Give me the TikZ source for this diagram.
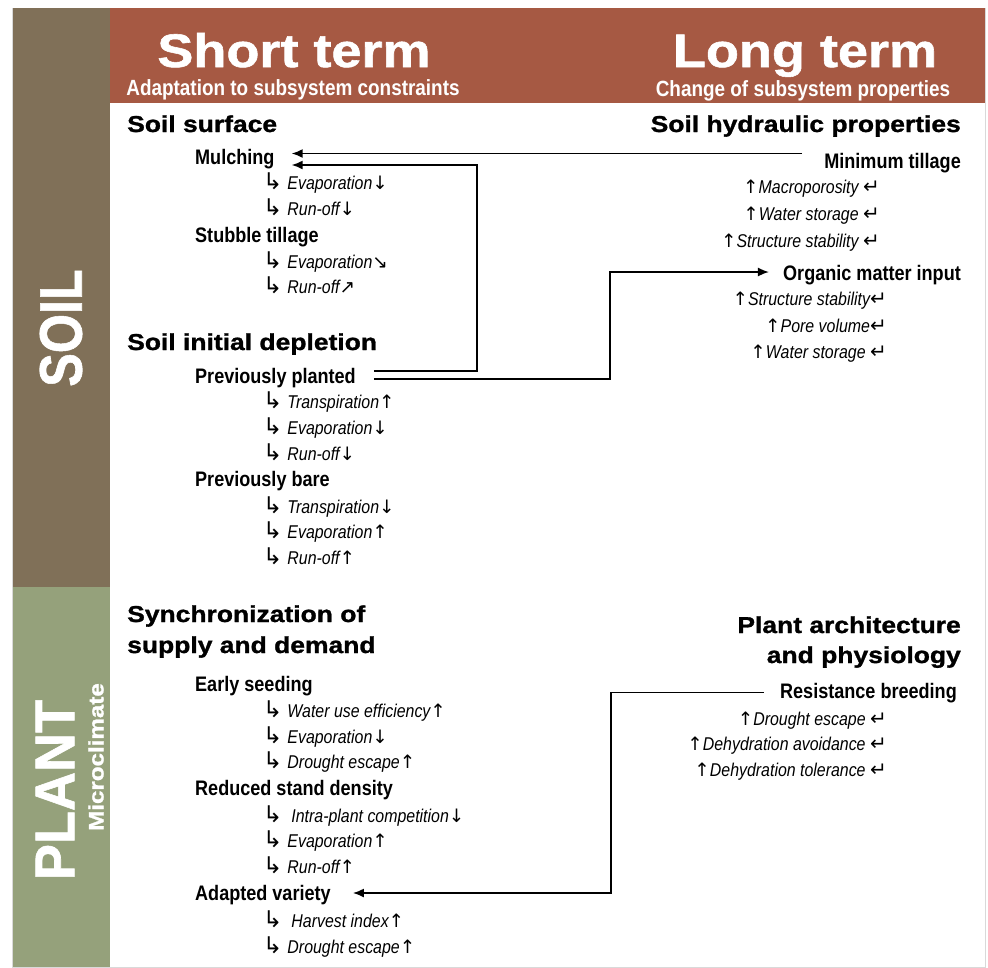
\documentclass[tikz,border=0pt]{standalone}
\usepackage{fontspec}
\setmainfont{Liberation Sans}
\newfontfamily\heavyfont{Liberation Sans}[FakeStretch=1.15,BoldFeatures={FakeBold=1.2}]
\newfontfamily\narrowfont{Liberation Sans}[FakeStretch=0.86]
\newfontfamily\symfont{DejaVu Sans}
\usetikzlibrary{arrows.meta}
\definecolor{soilbrown}{HTML}{807058}
\definecolor{plantgreen}{HTML}{95A17B}
\definecolor{headred}{HTML}{A65943}
\newcommand{\hookarr}{{\symfont\upshape\fontsize{23}{23}\selectfont ↳}}
\newcommand{\retarr}{{\symfont\upshape\fontsize{20}{20}\selectfont ↵}}
\newcommand{\arrup}{{\symfont\upshape ↑}}
\newcommand{\arrdown}{{\symfont\upshape ↓}}
\newcommand{\arrse}{{\symfont\upshape ↘}}
\newcommand{\arrne}{{\symfont\upshape ↗}}
\begin{document}
\begin{tikzpicture}[x=1pt,y=-1pt,
  hdr/.style={font=\heavyfont\bfseries\fontsize{47}{47}\selectfont, text=white, inner sep=0pt, anchor=base},
  sub/.style={font=\narrowfont\bfseries\fontsize{22}{22}\selectfont, text=white, inner sep=0pt, anchor=base},
  side/.style={font=\heavyfont\bfseries, text=white, inner sep=0pt, rotate=90},
  sect/.style={font=\heavyfont\bfseries\fontsize{23}{23}\selectfont, inner sep=0pt},
  item/.style={font=\narrowfont\bfseries\fontsize{21}{21}\selectfont, inner sep=0pt, text height=15pt, text depth=4pt},
  eff/.style={font=\narrowfont\itshape\fontsize{18.5}{18.5}\selectfont, inner sep=0pt},
  link/.style={line width=1.7pt, -{Latex[length=11pt,width=9pt]}}]
  \useasboundingbox (0,0) rectangle (988,967);
  % Background
  \fill[white] (0,0) rectangle (988,967);
  \draw[black!15, line width=1pt] (12.5,8.5) rectangle (985.5,967.5);
  \fill[headred] (110,8) rectangle (985,103);
  \fill[soilbrown] (13,8) rectangle (110,587);
  \fill[plantgreen] (13,587) rectangle (110,967);
  % Header
  \node[hdr] (st) at (294,67) {Short term};
  \node[sub] (stsub) at (293,95) {Adaptation to subsystem constraints};
  \node[hdr] (lt) at (805,67) {Long term};
  \node[sub] (ltsub) at (803,96) {Change of subsystem properties};
  % Side labels
  \node[side, font=\heavyfont\bfseries\fontsize{60}{60}\selectfont] (soil) at (61,328) {\scalebox{0.73}[1]{SOIL}};
  \node[side, font=\heavyfont\bfseries\fontsize{56}{56}\selectfont] (plant) at (55,790) {\scalebox{0.84}[1]{PLANT}};
  \node[side, font=\heavyfont\bfseries\fontsize{21}{21}\selectfont] (micro) at (96,757) {Microclimate};
  % Short term, soil
  \node[sect, anchor=base west] (ssurf) at (127,132) {Soil surface};
  \node[item, anchor=base west] (mulch) at (195,164) {Mulching};
  \node[eff, anchor=base west] (mu1) at (263,189) {\hookarr\hspace{5pt}Evaporation\arrdown};
  \node[eff, anchor=base west] (mu2) at (263,215) {\hookarr\hspace{5pt}Run-off\arrdown};
  \node[item, anchor=base west] (stub) at (195,242) {Stubble tillage};
  \node[eff, anchor=base west] (sb1) at (263,268) {\hookarr\hspace{5pt}Evaporation\arrse};
  \node[eff, anchor=base west] (sb2) at (263,293) {\hookarr\hspace{5pt}Run-off\arrne};
  \node[sect, anchor=base west] (sdep) at (127,350) {Soil initial depletion};
  \node[item, anchor=base west] (pp) at (195,383) {Previously planted};
  \node[eff, anchor=base west] (pp1) at (263,408) {\hookarr\hspace{5pt}Transpiration\arrup};
  \node[eff, anchor=base west] (pp2) at (263,434) {\hookarr\hspace{5pt}Evaporation\arrdown};
  \node[eff, anchor=base west] (pp3) at (263,460) {\hookarr\hspace{5pt}Run-off\arrdown};
  \node[item, anchor=base west] (pb) at (195,486) {Previously bare};
  \node[eff, anchor=base west] (pb1) at (263,513) {\hookarr\hspace{5pt}Transpiration\arrdown};
  \node[eff, anchor=base west] (pb2) at (263,538) {\hookarr\hspace{5pt}Evaporation\arrup};
  \node[eff, anchor=base west] (pb3) at (263,564) {\hookarr\hspace{5pt}Run-off\arrup};
  % Short term, plant
  \node[sect, anchor=base west] (sync1) at (127,622) {Synchronization of};
  \node[sect, anchor=base west] (sync2) at (127,653) {supply and demand};
  \node[item, anchor=base west] (es) at (195,691) {Early seeding};
  \node[eff, anchor=base west] (es1) at (263,717) {\hookarr\hspace{5pt}Water use efficiency\arrup};
  \node[eff, anchor=base west] (es2) at (263,743) {\hookarr\hspace{5pt}Evaporation\arrdown};
  \node[eff, anchor=base west] (es3) at (263,768) {\hookarr\hspace{5pt}Drought escape\arrup};
  \node[item, anchor=base west] (rsd) at (195,795) {Reduced stand density};
  \node[eff, anchor=base west] (rsd1) at (263,822) {\hookarr\hspace{9pt}Intra-plant competition\arrdown};
  \node[eff, anchor=base west] (rsd2) at (263,847) {\hookarr\hspace{5pt}Evaporation\arrup};
  \node[eff, anchor=base west] (rsd3) at (263,873) {\hookarr\hspace{5pt}Run-off\arrup};
  \node[item, anchor=base west] (adv) at (195,900) {Adapted variety};
  \node[eff, anchor=base west] (adv1) at (263,927) {\hookarr\hspace{9pt}Harvest index\arrup};
  \node[eff, anchor=base west] (adv2) at (263,953) {\hookarr\hspace{5pt}Drought escape\arrup};
  % Long term, soil
  \node[sect, anchor=base east] (shyd) at (961,132) {Soil hydraulic properties};
  \node[item, anchor=base east] (mintill) at (961,168) {Minimum tillage};
  \node[eff, anchor=base east] (mt1) at (880,193) {\arrup Macroporosity \retarr};
  \node[eff, anchor=base east] (mt2) at (880,220) {\arrup Water storage \retarr};
  \node[eff, anchor=base east] (mt3) at (880,247) {\arrup Structure stability \retarr};
  \node[item, anchor=base east] (om) at (961,280) {Organic matter input};
  \node[eff, anchor=base east] (om1) at (887,305) {\arrup Structure stability\retarr};
  \node[eff, anchor=base east] (om2) at (887,332) {\arrup Pore volume\retarr};
  \node[eff, anchor=base east] (om3) at (887,358) {\arrup Water storage \retarr};
  % Long term, plant
  \node[sect, anchor=base east] (parch1) at (961,633) {Plant architecture};
  \node[sect, anchor=base east] (parch2) at (961,663) {and physiology};
  \node[item, anchor=base east] (rb) at (957,698) {Resistance breeding};
  \node[eff, anchor=base east] (rb1) at (887,725) {\arrup Drought escape \retarr};
  \node[eff, anchor=base east] (rb2) at (887,750) {\arrup Dehydration avoidance \retarr};
  \node[eff, anchor=base east] (rb3) at (887,776) {\arrup Dehydration tolerance \retarr};
  % Bends
  \coordinate (bendA) at (477,165);
  \coordinate (bendB) at (610,272);
  \coordinate (bendC) at (611,893);
  % Arrows
  \draw[link] ([xshift=-22pt,yshift=9pt]mintill.west) -- ([xshift=17pt,yshift=5pt]mulch.east);
  \draw[link] ([xshift=18pt,yshift=6.5pt]pp.east) -| (bendA) |- ([xshift=17pt,yshift=-6.5pt]mulch.east);
  \draw[link] ([xshift=18pt,yshift=-1.5pt]pp.east) -| (bendB) |- ([xshift=-14pt,yshift=2.5pt]om.west);
  \draw[link] ([xshift=-16pt]rb.west) -| (bendC) |- ([xshift=22pt,yshift=1.5pt]adv.east);
\end{tikzpicture}
\end{document}
